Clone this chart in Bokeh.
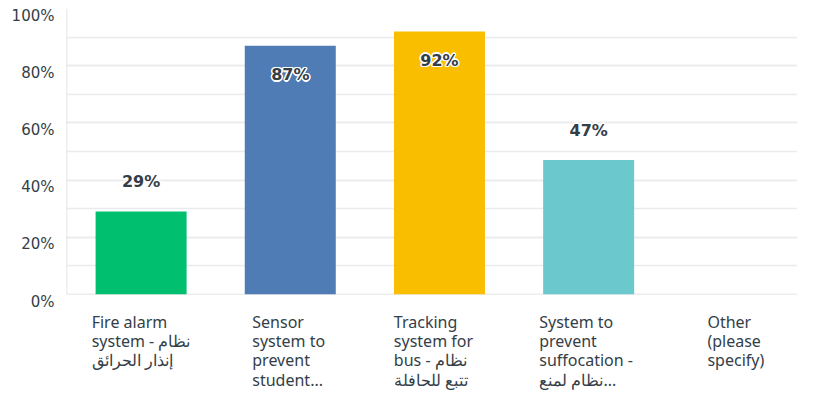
from bokeh.plotting import figure
from bokeh.models import ColumnDataSource, Range1d, FixedTicker, Span
from bokeh.core.properties import value
from bokeh.embed import file_html
from bokeh.resources import INLINE

categories = [
    "Fire alarm\nsystem - نظام\nإنذار الحرائق",
    "Sensor\nsystem to\nprevent\nstudent...",
    "Tracking\nsystem for\nbus - نظام\nتتبع للحافلة",
    "System to\nprevent\nsuffocation -\nنظام لمنع...",
    "Other\n(please\nspecify)",
]
values = [29, 87, 92, 47, 0]
colors = ["#00bf6f", "#507cb6", "#f9be00", "#6bc8cd", "#a0a0a0"]
y_ticks = [0, 20, 40, 60, 80, 100]
y_tick_labels = ["0%", "20%", "40%", "60%", "80%", "100%"]

TEXT = "#333e48"
GRID = "#e9ebec"

xs = [i + 0.5 for i in range(len(categories))]

p = figure(width=797, height=391, output_backend="svg", toolbar_location=None,
           x_range=Range1d(0, 4.9), y_range=Range1d(0, 100),
           min_border_left=66, min_border_right=0, min_border_top=8,
           min_border_bottom=97)
p.outline_line_color = None
p.background_fill_color = "white"
p.border_fill_color = "white"

# grid lines every 10%
p.xaxis.visible = False
p.yaxis.visible = False
p.xgrid.grid_line_color = None
p.ygrid.ticker = FixedTicker(ticks=y_ticks, minor_ticks=list(range(0, 101, 10)))
p.ygrid.grid_line_color = GRID
p.ygrid.minor_grid_line_color = GRID
p.ygrid.grid_line_width = 1.5
p.ygrid.minor_grid_line_width = 1.5

# axis lines
p.add_layout(Span(location=0, dimension="height", line_color="#dcdcdc", line_width=1.5,
                  level="underlay"))
p.add_layout(Span(location=0, dimension="width", line_color="#dcdcdc", line_width=1.5,
                  level="underlay"))

src = ColumnDataSource(dict(x=xs, top=values, color=colors))
p.vbar(x="x", top="top", width=0.61, fill_color="color", line_color=None, source=src)

# y tick labels, sitting just below each gridline as in the reference
ysrc = ColumnDataSource(dict(x=[0] * len(y_ticks), y=y_ticks, t=y_tick_labels))
p.text(x="x", y="y", text="t", source=ysrc, x_offset=-12, y_offset=7,
       text_align="right", text_baseline="middle",
       text_font=value("DejaVu Sans"), text_font_size="15px", text_color=TEXT,
       level="annotation")

# value labels (with white halo)
lab_x, lab_y, lab_t, lab_off = [], [], [], []
for x, v in zip(xs, values):
    if v <= 0:
        continue
    lab_x.append(x)
    lab_y.append(v)
    lab_t.append(f"{v}%")
    lab_off.append(29 if v > 80 else -30)
lsrc = ColumnDataSource(dict(x=lab_x, y=lab_y, t=lab_t, off=lab_off))
for dx, dy in [(-1.5, 0), (1.5, 0), (0, -1.5), (0, 1.5), (-1, -1), (1, 1), (-1, 1), (1, -1)]:
    offs = [o + dy for o in lab_off]
    s2 = ColumnDataSource(dict(x=lab_x, y=lab_y, t=lab_t, off=offs))
    p.text(x="x", y="y", text="t", source=s2, x_offset=dx, y_offset="off",
           text_align="center", text_baseline="middle",
           text_font=value("DejaVu Sans"), text_font_style="bold",
           text_font_size="16px", text_color="white")
p.text(x="x", y="y", text="t", source=lsrc, y_offset="off",
       text_align="center", text_baseline="middle",
       text_font=value("DejaVu Sans"), text_font_style="bold",
       text_font_size="16px", text_color=TEXT)

# category labels (left-aligned lines in a centered block)
cx_off = []
for c in categories:
    longest = max(len(line) for line in c.split("\n"))
    cx_off.append(-longest * 7.6 / 2)
csrc = ColumnDataSource(dict(x=xs, y=[0] * len(xs), t=categories, xo=cx_off))
p.text(x="x", y="y", text="t", source=csrc, x_offset="xo", y_offset=16,
       text_align="left", text_baseline="top", text_line_height=0.88,
       text_font=value("Noto Sans"), text_font_size="16px", text_color=TEXT,
       level="annotation")

open("out.html", "w").write(file_html(p, INLINE))
